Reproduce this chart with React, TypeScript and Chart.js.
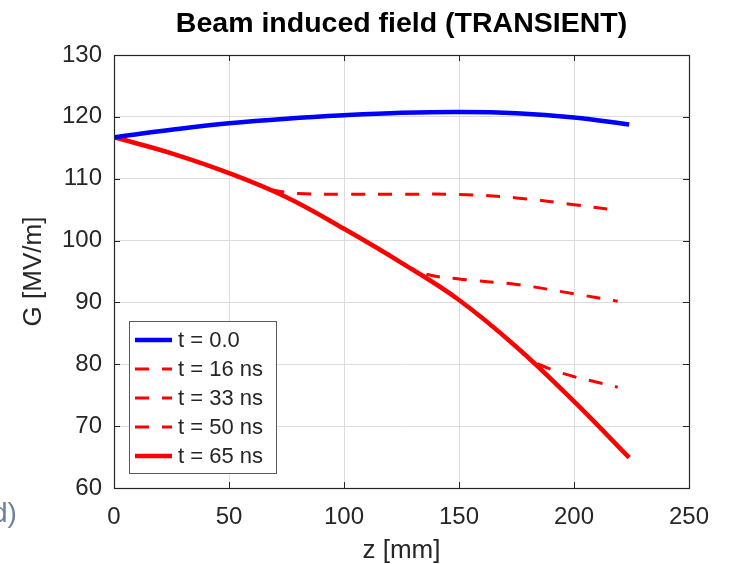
import React, { useEffect, useRef } from "react";
import { Chart, registerables } from "chart.js";

Chart.register(...registerables);

// ---- data ----
const zT0 = [0, 25, 50, 75, 100, 125, 150, 175, 200, 224];
const gT0 = [116.7, 117.9, 118.95, 119.7, 120.25, 120.65, 120.8, 120.6, 119.9, 118.75];

const zT16 = [68, 80, 100, 125, 150, 175, 200, 219];
const gT16 = [108.2, 107.6, 107.5, 107.5, 107.45, 106.9, 105.8, 104.9];

const zT33 = [115, 133, 150, 175, 200, 219];
const gT33 = [98.6, 94.9, 93.8, 92.9, 91.4, 90.2];

const zT50 = [175, 182, 190, 200, 210, 219];
const gT50 = [82.8, 80.6, 79.2, 78.0, 77.1, 76.3];

const zT65 = [0, 25, 50, 75, 100, 125, 150, 175, 200, 224];
const gT65 = [116.7, 114.1, 110.9, 107.0, 101.9, 96.4, 90.4, 82.8, 74.0, 64.9];

const seriesLabels = ["t = 0.0", "t = 16 ns", "t = 33 ns", "t = 50 ns", "t = 65 ns"];
const xTickValues = [0, 50, 100, 150, 200, 250];
const yTickValues = [60, 70, 80, 90, 100, 110, 120, 130];

const titleText = "Beam induced field (TRANSIENT)";
const xTitle = "z [mm]";
const yTitle = "G [MV/m]";

const FONT = "'Liberation Sans', Arial, Helvetica, sans-serif";
const INK = "#262626";

const pts = (zs: number[], gs: number[]) => zs.map((z, i) => ({ x: z, y: gs[i] }));

const framePlugin = {
  id: "frame",
  afterDatasetsDraw(chart: any) {
    const { ctx, chartArea, scales } = chart;
    const { left, right, top, bottom } = chartArea;
    const xs = scales.x;
    const ys = scales.y;
    ctx.save();
    ctx.strokeStyle = INK;
    ctx.lineWidth = 1;
    ctx.beginPath();
    xs.ticks.forEach((t: any) => {
      const px = Math.round(xs.getPixelForValue(t.value)) + 0.5;
      ctx.moveTo(px, bottom);
      ctx.lineTo(px, bottom - 6);
      ctx.moveTo(px, top);
      ctx.lineTo(px, top + 6);
    });
    ys.ticks.forEach((t: any) => {
      const py = Math.round(ys.getPixelForValue(t.value)) + 0.5;
      ctx.moveTo(left, py);
      ctx.lineTo(left + 6, py);
      ctx.moveTo(right, py);
      ctx.lineTo(right - 6, py);
    });
    ctx.stroke();
    ctx.lineWidth = 1.2;
    ctx.strokeRect(left + 0.5, top + 0.5, right - left, bottom - top);
    ctx.restore();
  },
};

const legendPlugin = {
  id: "insideLegend",
  afterDraw(chart: any) {
    const { ctx } = chart;
    const boxL = 129, boxT = 321, boxR = 276, boxB = 473;
    ctx.save();
    ctx.fillStyle = "#ffffff";
    ctx.fillRect(boxL, boxT, boxR - boxL, boxB - boxT);
    ctx.strokeStyle = "#5a5a5a";
    ctx.lineWidth = 1;
    ctx.strokeRect(boxL + 0.5, boxT + 0.5, boxR - boxL, boxB - boxT);
    const rowH = 29;
    const firstY = 340;
    chart.data.datasets.forEach((ds: any, i: number) => {
      const y = firstY + i * rowH;
      ctx.beginPath();
      ctx.strokeStyle = ds.borderColor;
      ctx.lineWidth = ds.borderWidth;
      ctx.setLineDash(ds.borderDash || []);
      ctx.moveTo(135, y);
      ctx.lineTo(172, y);
      ctx.stroke();
      ctx.setLineDash([]);
      ctx.fillStyle = INK;
      ctx.font = `22px ${FONT}`;
      ctx.textBaseline = "middle";
      ctx.textAlign = "left";
      ctx.fillText(ds.label, 178, y + 1);
    });
    ctx.restore();
  },
};

export default function App() {
  const ref = useRef<HTMLCanvasElement | null>(null);

  useEffect(() => {
    if (!ref.current) return;
    const dashed = [14, 13];
    const chart = new Chart(ref.current, {
      type: "line",
      data: {
        datasets: [
          { label: seriesLabels[0], data: pts(zT0, gT0), borderColor: "#0000ff", borderWidth: 4.5, order: 0 },
          { label: seriesLabels[1], data: pts(zT16, gT16), borderColor: "#ff0000", borderWidth: 3, borderDash: dashed, order: 2 },
          { label: seriesLabels[2], data: pts(zT33, gT33), borderColor: "#ff0000", borderWidth: 3, borderDash: dashed, order: 2 },
          { label: seriesLabels[3], data: pts(zT50, gT50), borderColor: "#ff0000", borderWidth: 3, borderDash: dashed, order: 2 },
          { label: seriesLabels[4], data: pts(zT65, gT65), borderColor: "#ff0000", borderWidth: 4.5, order: 1 },
        ] as any,
      },
      options: {
        animation: false,
        responsive: false,
        devicePixelRatio: 1,
        layout: { padding: { top: 0, right: 43, bottom: 0, left: 0 } },
        elements: {
          point: { radius: 0, hoverRadius: 0 },
          line: { tension: 0.4, borderCapStyle: "butt", fill: false },
        },
        plugins: {
          legend: { display: false },
          tooltip: { enabled: false },
          title: {
            display: true,
            text: titleText,
            fullSize: false,
            color: "#000000",
            font: { family: FONT, size: 28.5, weight: "bold", lineHeight: 1 },
            padding: { top: 9.5, bottom: 17 },
          },
        },
        scales: {
          x: {
            type: "linear",
            min: 0,
            max: 250,
            afterBuildTicks: (s: any) => {
              s.ticks = xTickValues.map((v) => ({ value: v }));
            },
            afterFit: (s: any) => {
              s.height = 76;
            },
            grid: { color: "#dcdcdc", lineWidth: 1, drawTicks: false },
            border: { display: false },
            ticks: { color: INK, font: { family: FONT, size: 24 }, padding: 15, maxRotation: 0 },
            title: {
              display: true,
              text: xTitle,
              color: INK,
              font: { family: FONT, size: 26, lineHeight: 1 },
              padding: { top: 0, bottom: 0 },
            },
          },
          y: {
            type: "linear",
            min: 60,
            max: 130,
            afterBuildTicks: (s: any) => {
              s.ticks = yTickValues.map((v) => ({ value: v }));
            },
            afterFit: (s: any) => {
              s.width = 114;
            },
            grid: { color: "#dcdcdc", lineWidth: 1, drawTicks: false },
            border: { display: false },
            ticks: { color: INK, font: { family: FONT, size: 24 }, padding: 12 },
            title: {
              display: true,
              text: yTitle,
              color: INK,
              font: { family: FONT, size: 26, lineHeight: 1 },
              padding: { top: 21, bottom: 0 },
            },
          },
        },
      } as any,
      plugins: [framePlugin, legendPlugin],
    });
    return () => chart.destroy();
  }, []);

  return (
    <div style={{ position: "absolute", left: 0, top: 0, width: 732, height: 564, background: "#ffffff", overflow: "hidden" }}>
      <canvas ref={ref} width={732} height={564} style={{ display: "block" }} />
      <div
        style={{
          position: "absolute",
          left: -8,
          top: 499,
          fontFamily: FONT,
          fontSize: 28,
          lineHeight: "28px",
          color: "#6e819c",
          whiteSpace: "nowrap",
        }}
      >
        d)
      </div>
    </div>
  );
}
